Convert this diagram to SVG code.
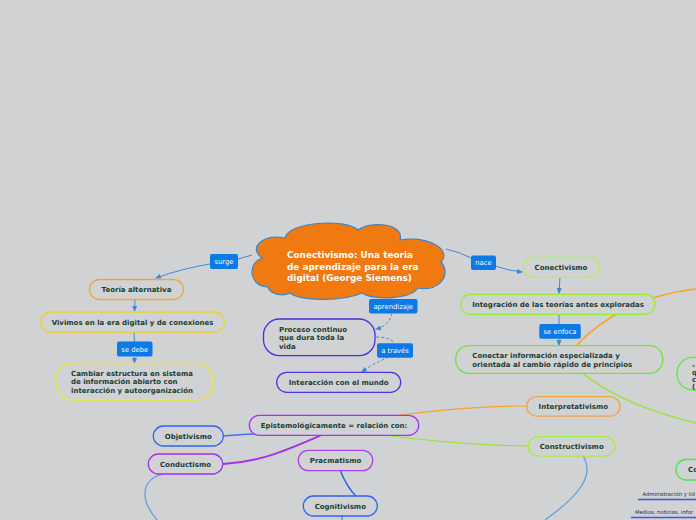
<svg xmlns="http://www.w3.org/2000/svg" width="696" height="520" viewBox="0 0 696 520">
<defs>
<style>
.bg{fill:#d1d2d4}
.n{fill:#d1d2d4;stroke-width:1.3}
.t{font-family:"DejaVu Sans",Verdana,sans-serif;font-weight:bold;font-size:7px;fill:#1b3d33}
.c{text-anchor:middle}
.lb{fill:#0b7ae6}
.lt{font-family:"DejaVu Sans",Verdana,sans-serif;font-size:6.8px;fill:#ffffff;text-anchor:middle}
.e{fill:none;stroke:#3f8ad8;stroke-width:1}
.d{fill:none;stroke:#3f8ad8;stroke-width:1;stroke-dasharray:3,2}
.s{font-family:"DejaVu Sans",Verdana,sans-serif;font-size:5.3px;fill:#1b2d33}
</style>
<marker id="a" viewBox="0 0 6 6" refX="5" refY="3" markerWidth="6" markerHeight="6" markerUnits="userSpaceOnUse" orient="auto"><path d="M0,0.5 L6,3 L0,5.5 z" fill="#3a86d8"/></marker>
</defs>
<rect class="bg" x="0" y="0" width="696" height="520"/>

<g id="connectors">
<path class="e" d="M252,255 Q245,257 238,259"/>
<path class="e" d="M210,264 Q180,269 156,278" marker-end="url(#a)"/>
<path class="e" d="M135,299 L134.5,311" marker-end="url(#a)"/>
<path class="e" d="M134,332 L134.5,342"/>
<path class="e" d="M134.5,357 L134.5,363" marker-end="url(#a)"/>
<path class="e" d="M446,249 Q460,252 471,258"/>
<path class="e" d="M495,266 Q510,271 522,272" marker-end="url(#a)"/>
<path class="e" d="M560,277 L559,293" marker-end="url(#a)"/>
<path class="e" d="M559,314 L559,324"/>
<path class="e" d="M559,339 L559,345" marker-end="url(#a)"/>
<path class="d" d="M389,293 L392,299"/>
<path class="d" d="M392,313 Q389,326 376,329" marker-end="url(#a)"/>
<path class="d" d="M376,337 Q390,337 394,343"/>
<path class="d" d="M389,357 Q372,364 362,372" marker-end="url(#a)"/>
<path fill="none" stroke="#f7a42a" stroke-width="1.6" d="M576,346 C600,320 640,295 696,289"/>
<path fill="none" stroke="#92e62e" stroke-width="1.5" d="M582,373 C610,395 650,412 696,423"/>
<path fill="none" stroke="#3d74e6" stroke-width="1.5" d="M223,436 Q245,434 272,433"/>
<path fill="none" stroke="#a62ff0" stroke-width="1.8" d="M223,464 C262,462 292,448 324,434"/>
<path fill="none" stroke="#f7a42a" stroke-width="1.2" d="M400,415 C440,410 480,406 527,406"/>
<path fill="none" stroke="#92e62e" stroke-width="1.2" d="M385,435 C420,440 470,445 528,446"/>
<path fill="none" stroke="#2a62e6" stroke-width="1.5" d="M340,470 C348,490 360,505 377,506"/>
<path fill="none" stroke="#4a86e0" stroke-width="1.2" d="M342,516 L342,520"/>
<path fill="none" stroke="#5d9be2" stroke-width="1.2" d="M163,474 C140,480 140,500 157,520"/>
<path fill="none" stroke="#5d9be2" stroke-width="1.2" d="M583,456 C595,475 580,495 545,520"/>
<path fill="none" stroke="#2a5ff0" stroke-width="1.3" d="M638,499.5 L696,499.5"/>
<path fill="none" stroke="#2a5ff0" stroke-width="1.3" d="M631,517.5 L696,517.5"/>
</g>

<g id="cloud">
<path fill="#f07a10" stroke="#3d86c6" stroke-width="1.2" d="M268,287 C250,287 246,264 262,258 C248,248 262,234 285,238 C288,222 345,218 358,230 C372,220 405,224 400,240 C430,236 452,250 441,262 C452,274 440,292 418,288 C410,300 372,300 362,293 C342,302 300,301 290,293 C282,297 270,294 268,287 Z"/>
<text font-family="DejaVu Sans,Verdana,sans-serif" font-weight="bold" font-size="8.9" fill="#ffffff"><tspan x="287" y="258.3">Conectivismo: Una teoria</tspan><tspan x="287" y="269.8">de aprendizaje para la era</tspan><tspan x="287" y="281.2">digital (George Siemens)</tspan></text>
</g>

<g id="lbl-surge"><rect class="lb" x="210" y="254" width="28" height="15" rx="2"/><text class="lt" x="224" y="264">surge</text></g>
<g id="lbl-sedebe"><rect class="lb" x="117" y="341.5" width="35.5" height="15" rx="2"/><text class="lt" x="134.8" y="351.5">se debe</text></g>
<g id="lbl-aprendizaje"><rect class="lb" x="369" y="299" width="48.5" height="14.5" rx="2"/><text class="lt" x="393.2" y="308.7">aprendizaje</text></g>
<g id="lbl-atraves"><rect class="lb" x="377" y="343.3" width="36" height="14.5" rx="2"/><text class="lt" x="395" y="353">a través</text></g>
<g id="lbl-nace"><rect class="lb" x="471" y="255.5" width="25" height="14.5" rx="2"/><text class="lt" x="483.5" y="265.2">nace</text></g>
<g id="lbl-seenfoca"><rect class="lb" x="539.3" y="324" width="41.5" height="14.7" rx="2"/><text class="lt" x="560" y="333.8">se enfoca</text></g>

<g id="n-teoria"><rect class="n" stroke="#f2a445" x="89.5" y="279.5" width="94" height="20" rx="10"/><text class="t c" x="136.5" y="292">Teoría alternativa</text></g>
<g id="n-vivimos"><rect class="n" stroke="#f0d028" x="40.7" y="312" width="183.6" height="20" rx="10"/><text class="t c" x="132.5" y="324.5">Vivimos en la era digital y de conexiones</text></g>
<g id="n-cambiar"><rect class="n" stroke="#e8ea38" x="56" y="363.5" width="157" height="36.5" rx="16"/><text class="t"><tspan x="71" y="375.8">Cambiar estructura en sistema</tspan><tspan x="71" y="384.2">de información abierto con</tspan><tspan x="71" y="392.6">interacción y autoorganización</tspan></text></g>
<g id="n-proceso"><rect class="n" stroke="#4a2fe2" x="263.5" y="319" width="111.5" height="36.7" rx="16"/><text class="t"><tspan x="279" y="331.8">Proceso continuo</tspan><tspan x="279" y="340.2">que dura toda la</tspan><tspan x="279" y="349">vida</tspan></text></g>
<g id="n-interaccion"><rect class="n" stroke="#4e33e2" x="276.7" y="372.3" width="124" height="20" rx="10"/><text class="t c" x="338.7" y="384.8">Interacción con el mundo</text></g>
<g id="n-conectivismo"><rect class="n" stroke="#b4f046" x="523.3" y="257.3" width="75.7" height="20" rx="10"/><text class="t c" x="561" y="269.8">Conectivismo</text></g>
<g id="n-integracion"><rect class="n" stroke="#98ec34" x="460.7" y="294.3" width="194.3" height="20" rx="10"/><text class="t c" x="558" y="306.8">Integración de las teorías antes exploradas</text></g>
<g id="n-conectar"><rect class="n" stroke="#74e23c" x="455.7" y="345.7" width="207" height="27.6" rx="13"/><text class="t"><tspan x="472.3" y="358.2">Conectar información especializada y</tspan><tspan x="472.3" y="366.8">orientada al cambio rápido de principios</tspan></text></g>
<g id="n-right"><rect class="n" stroke="#5ee646" x="677" y="357.3" width="60" height="32.7" rx="16"/><text class="t" font-size="6"><tspan x="692" y="367.5">-</tspan><tspan x="692" y="374.5">q</tspan><tspan x="692" y="381.5">c</tspan><tspan x="692" y="388.5">(</tspan></text></g>
<g id="n-interpretativismo"><rect class="n" stroke="#f2a445" x="526.7" y="396.7" width="93.3" height="19.5" rx="10"/><text class="t c" x="573.3" y="409">Interpretativismo</text></g>
<g id="n-constructivismo"><rect class="n" stroke="#a2ee42" x="528.3" y="436.7" width="86.7" height="19.5" rx="10"/><text class="t c" x="571.7" y="449">Constructivismo</text></g>
<g id="n-co"><rect class="n" stroke="#52e252" x="676" y="459.5" width="60" height="20.5" rx="10"/><text class="t" x="688" y="472.3">Co</text></g>
<g id="n-admin"><text class="s" x="642.5" y="496">Administración y lid</text></g>
<g id="n-medios"><text class="s" x="635" y="514">Medios, noticias, infor</text></g>
<g id="n-epistemo"><rect class="n" stroke="#a432f0" x="249.3" y="415.3" width="169.4" height="20" rx="10"/><text class="t c" x="334" y="427.8">Epistemológicamente = relación con:</text></g>
<g id="n-objetivismo"><rect class="n" stroke="#3462f0" x="153.3" y="426" width="70" height="20" rx="10"/><text class="t c" x="188.3" y="438.5">Objetivismo</text></g>
<g id="n-conductismo"><rect class="n" stroke="#a432e6" x="148.3" y="454" width="74.4" height="20" rx="10"/><text class="t c" x="185.5" y="466.5">Conductismo</text></g>
<g id="n-pracmatismo"><rect class="n" stroke="#a844e6" x="298.3" y="450.3" width="74.4" height="20.3" rx="10"/><text class="t c" x="335.5" y="462.8">Pracmatismo</text></g>
<g id="n-cognitivismo"><rect class="n" stroke="#3462f0" x="303.3" y="496" width="74" height="20" rx="10"/><text class="t c" x="340.3" y="508.5">Cognitivismo</text></g>
</svg>
